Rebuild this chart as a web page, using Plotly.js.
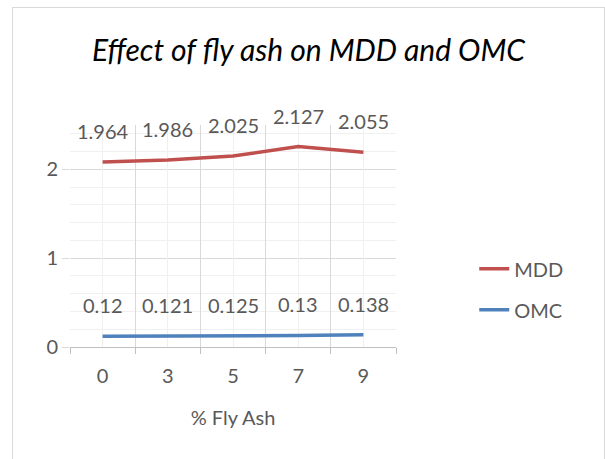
<!DOCTYPE html>
<html>
<head>
<meta charset="utf-8">
<script src="https://cdn.plot.ly/plotly-3.0.1.min.js"></script>
<style>
  body { margin: 0; background: #fff; }
  #frame { position: absolute; left: 12px; top: 7px; width: 591px; height: 460px;
           border: 1px solid #d9d9d9; border-bottom: none; }
  #chart { position: absolute; left: 0; top: 0; width: 605px; height: 459px; }
</style>
</head>
<body>
<div id="frame"></div>
<div id="chart"></div>
<script>
// % fly ash categories and test results
var flyAsh = ["0", "3", "5", "7", "9"];
var mdd = [1.964, 1.986, 2.025, 2.127, 2.055];
var omc = [0.12, 0.121, 0.125, 0.13, 0.138];

var font = "Lato, 'Open Sans', sans-serif";
var grey = "#595959";

// stacked line chart, as in the original spreadsheet
var traces = [
  {
    x: flyAsh, y: omc, name: "OMC", type: "scatter", mode: "lines",
    stackgroup: "one", fill: "none", legendgroup: "b", legendrank: 2,
    line: { color: "#4f81bd", width: 3.5 }
  },
  {
    x: flyAsh, y: mdd, name: "MDD", type: "scatter", mode: "lines",
    stackgroup: "one", fill: "none", legendgroup: "a", legendrank: 1,
    line: { color: "#c0504d", width: 3.5 }
  },
  // helper trace to draw the lighter gridlines through category centres
  {
    x: flyAsh, y: omc, xaxis: "x2", type: "scatter", mode: "none",
    showlegend: false, hoverinfo: "skip"
  }
];

// data labels sit above each point (x given as category index)
var annotations = [];
for (var i = 0; i < flyAsh.length; i++) {
  annotations.push({
    x: i, y: omc[i], text: String(omc[i]), showarrow: false,
    yshift: 31, font: { family: font, size: 20, color: grey }
  });
  annotations.push({
    x: i, y: omc[i] + mdd[i], text: String(mdd[i]), showarrow: false,
    yshift: 31, font: { family: font, size: 20, color: grey }
  });
}

var layout = {
  width: 605,
  height: 459,
  paper_bgcolor: "rgba(0,0,0,0)",
  plot_bgcolor: "rgba(0,0,0,0)",
  margin: { l: 70, r: 209, t: 125, b: 112 },
  font: { family: font, size: 20, color: grey },
  title: {
    text: "<i>Effect of fly ash on MDD and OMC</i>",
    font: { family: font, size: 30, color: "#000" },
    x: 0.51, xref: "container", xanchor: "center", y: 0.89, yanchor: "middle"
  },
  xaxis: {
    type: "category",
    range: [-0.5, 4.5],
    tickson: "boundaries",
    showgrid: true, gridcolor: "#d9d9d9", gridwidth: 1,
    showline: true, linecolor: "#bfbfbf", linewidth: 1,
    ticks: "outside", ticklen: 6, tickcolor: "#bfbfbf",
    ticklabelstandoff: 11,
    tickfont: { family: font, size: 20, color: grey },
    title: { text: "% Fly Ash", font: { family: font, size: 20, color: grey }, standoff: 24 },
    fixedrange: true
  },
  xaxis2: {
    type: "category", overlaying: "x", range: [-0.5, 4.5],
    showgrid: true, gridcolor: "#f0f0f0", gridwidth: 1,
    showticklabels: false, ticks: "", showline: false
  },
  yaxis: {
    range: [0, 2.5],
    tickvals: [0, 1, 2],
    showgrid: true, gridcolor: "#d9d9d9", gridwidth: 1,
    minor: { dtick: 0.2, showgrid: true, gridcolor: "#f0f0f0" },
    zeroline: false, showline: false,
    ticks: "outside", ticklen: 7, tickcolor: "#d9d9d9",
    tickfont: { family: font, size: 20, color: grey },
    fixedrange: true
  },
  showlegend: true,
  legend: {
    x: 1.24, xanchor: "left", y: 0.44, yanchor: "top",
    traceorder: "grouped", tracegroupgap: 12,
    font: { family: font, size: 20, color: grey },
    bgcolor: "rgba(0,0,0,0)"
  },
  annotations: annotations
};

Plotly.newPlot("chart", traces, layout, { staticPlot: true });
</script>
</body>
</html>
